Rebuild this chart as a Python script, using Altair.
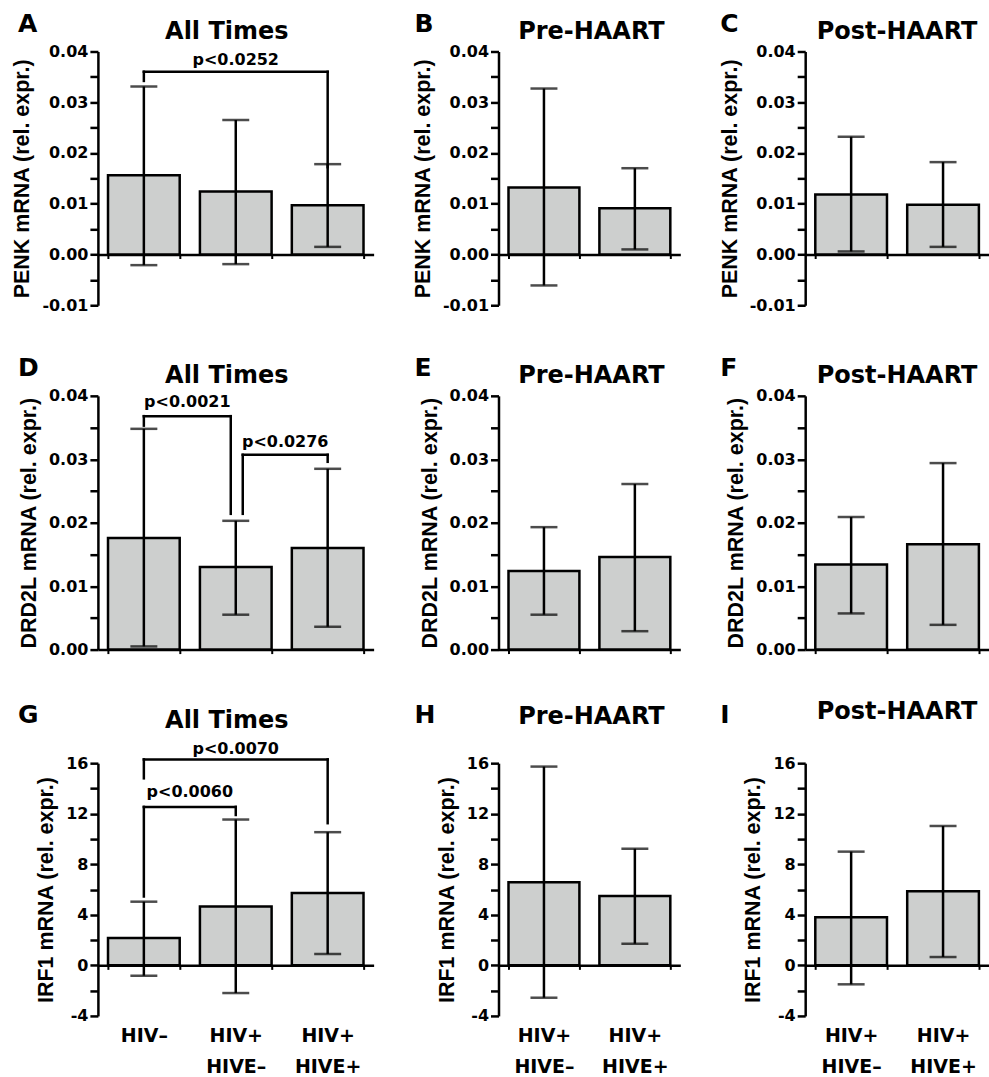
import altair as alt
import pandas as pd

# ---------------- data ----------------
cats3 = ["HIV–", "HIV+\nHIVE–", "HIV+\nHIVE+"]
cats2 = ["HIV+\nHIVE–", "HIV+\nHIVE+"]

# PENK
penk_all_mean = [0.0156, 0.0124, 0.0097]
penk_all_hi = [0.0331, 0.0265, 0.0178]
penk_all_lo = [-0.0021, -0.0019, 0.0015]
penk_pre_mean = [0.0132, 0.0091]
penk_pre_hi = [0.0327, 0.0170]
penk_pre_lo = [-0.0061, 0.0010]
penk_post_mean = [0.0118, 0.0098]
penk_post_hi = [0.0232, 0.0182]
penk_post_lo = [0.0006, 0.0015]

# DRD2L
drd_all_mean = [0.0176, 0.0130, 0.0160]
drd_all_hi = [0.0348, 0.0203, 0.0285]
drd_all_lo = [0.0005, 0.0055, 0.0036]
drd_pre_mean = [0.0124, 0.0146]
drd_pre_hi = [0.0193, 0.0261]
drd_pre_lo = [0.0055, 0.0029]
drd_post_mean = [0.0134, 0.0166]
drd_post_hi = [0.0209, 0.0294]
drd_post_lo = [0.0057, 0.0039]

# IRF1
irf_all_mean = [2.16, 4.66, 5.72]
irf_all_hi = [5.04, 11.54, 10.54]
irf_all_lo = [-0.82, -2.19, 0.90]
irf_pre_mean = [6.58, 5.48]
irf_pre_hi = [15.73, 9.23]
irf_pre_lo = [-2.56, 1.71]
irf_post_mean = [3.81, 5.87]
irf_post_hi = [9.00, 11.03]
irf_post_lo = [-1.50, 0.66]

# significance brackets
sigA_label = ["p<0.0252"]
sigA_from = [cats3[0]]
sigA_to = [cats3[2]]
sigA_top = [0.0360]
sigA_left = [0.0342]
sigA_right = [0.0172]
sigA_text = [0.0384]

sigD_label = ["p<0.0021", "p<0.0276"]
sigD_from = [cats3[0], cats3[1]]
sigD_to = [cats3[1], cats3[2]]
sigD_top = [0.0368, 0.0307]
sigD_left = [0.0353, 0.0214]
sigD_right = [0.0214, 0.0296]
sigD_text = [0.0391, 0.0327]

sigG_label = ["p<0.0070", "p<0.0060"]
sigG_from = [cats3[0], cats3[0]]
sigG_to = [cats3[2], cats3[1]]
sigG_top = [16.30, 12.54]
sigG_left = [14.80, 5.45]
sigG_right = [11.25, 11.90]
sigG_text = [17.10, 13.75]

# axis ticks
penk_ticks = [-0.01, -0.005, 0.0, 0.005, 0.01, 0.015, 0.02, 0.025, 0.03, 0.035, 0.04]
drd_ticks = [0.0, 0.005, 0.01, 0.015, 0.02, 0.025, 0.03, 0.035, 0.04]
irf_ticks = [-4, -2, 0, 2, 4, 6, 8, 10, 12, 14, 16]

# ---------------- style ----------------
FONT = "DejaVu Sans"
TFONT = "Liberation Sans"
BARFILL = "#cdcfce"
LW = 2.5
PI, PO = 0.22, 0.11

DEC_EXPR = ("round(datum.value*1000) % 10 == 0 ? "
            "(datum.value < 0 ? '-' : '') + format(abs(datum.value), '.2f') : ''")
INT_EXPR = ("datum.value % 4 == 0 ? "
            "(datum.value < 0 ? '-' : '') + format(abs(datum.value), 'd') : ''")


def panel(letter, title, cats, mean, lo, hi, ydom, yticks, yexpr, ytitle,
          width, height, show_labels, letter_x, letter_y, title_y, title_dx,
          sig=None, dx=None):
    n = len(cats)
    step = width / (n - PI + 2 * PO)
    zero_off = -height * (0 - ydom[0]) / (ydom[1] - ydom[0])
    xscale = alt.Scale(domain=cats, paddingInner=PI, paddingOuter=PO)
    xaxis = alt.Axis(
        title=None, labels=show_labels, labelExpr="split(datum.label, '\\n')",
        labelFont=FONT, labelFontSize=19, labelFontWeight="bold", labelColor="black",
        labelLineHeight=31, labelPadding=57, labelAngle=0,
        domainColor="black", domainWidth=LW, tickColor="black", tickWidth=2,
        tickSize=4, tickBand="extent", offset=zero_off, grid=False,
    )
    yscale = alt.Scale(domain=ydom, nice=False, zero=False)
    yaxis = alt.Axis(
        title=ytitle, values=yticks, labelExpr=yexpr, grid=False,
        domainColor="black", domainWidth=LW, tickColor="black", tickWidth=LW,
        tickSize=8, labelFont=FONT, labelFontSize=16, labelFontWeight="bold",
        labelColor="black", labelPadding=2, labelOverlap=False,
        titleFont=TFONT, titleFontSize=21.5, titleFontWeight="bold",
        titleColor="black", titlePadding=8,
    )

    def X(f):
        return alt.X(f + ":N", scale=xscale, axis=xaxis, sort=cats)

    def Y(f):
        return alt.Y(f + ":Q", scale=yscale, axis=yaxis)

    df = pd.DataFrame({"cat": cats, "mean": mean, "lo": lo, "hi": hi})
    base = alt.Chart(df)
    bars = base.mark_bar(fill=BARFILL, stroke="black", strokeWidth=LW).encode(
        x=X("cat"), y=Y("mean"), y2=alt.datum(0)
    )
    err = base.mark_rule(color="black", strokeWidth=LW).encode(
        x=X("cat"), y=Y("lo"), y2="hi:Q"
    )
    caps = base.transform_fold(["lo", "hi"], as_=["k", "v"]).mark_tick(
        color="black", size=27, thickness=LW
    ).encode(x=X("cat"), y=Y("v"))
    layers = [bars, err, caps]

    if sig is not None:
        labels, frm, to, top, yl, yr, ty = sig
        for i in range(len(labels)):
            dl, dr = dx[i] if dx else (0, 0)
            bdf = pd.DataFrame({"a": [frm[i]], "b": [to[i]], "top": [top[i]],
                                "yl": [yl[i]], "yr": [yr[i]], "ty": [ty[i]],
                                "lab": [labels[i]]})
            bc = alt.Chart(bdf)
            layers.append(bc.mark_rule(color="black", strokeWidth=LW, strokeCap="square",
                                       xOffset=dl, x2Offset=dr).encode(
                x=X("a"), x2="b:N", y=Y("top")))
            layers.append(bc.mark_rule(color="black", strokeWidth=LW, strokeCap="square",
                                       xOffset=dl).encode(
                x=X("a"), y=Y("top"), y2="yl:Q"))
            layers.append(bc.mark_rule(color="black", strokeWidth=LW, strokeCap="square",
                                       xOffset=dr).encode(
                x=X("b"), y=Y("top"), y2="yr:Q"))
            mid = (cats.index(to[i]) - cats.index(frm[i])) * step / 2 + (dl + dr) / 2
            layers.append(bc.mark_text(font=FONT, fontSize=16, fontWeight="bold",
                                       color="black", baseline="middle", align="center",
                                       xOffset=mid).encode(
                x=X("a"), y=Y("ty"), text="lab:N"))

    tdf = pd.DataFrame({"letter": [letter], "title": [title]})
    lt = alt.Chart(tdf).mark_text(font=FONT, fontSize=25, fontWeight="bold", color="black",
                                  align="left", baseline="alphabetic").encode(
        text="letter:N", x=alt.value(letter_x), y=alt.value(letter_y))
    tt = alt.Chart(tdf).mark_text(font=FONT, fontSize=24, fontWeight="bold", color="black",
                                  align="center", baseline="alphabetic").encode(
        text="title:N", x=alt.value(width / 2 + title_dx), y=alt.value(title_y))
    layers += [lt, tt]
    return alt.layer(*layers).properties(width=width, height=height)


W1, W2, W3 = 276, 182, 184
H12, H3 = 254, 253

A = panel("A", "All Times", cats3, penk_all_mean, penk_all_lo, penk_all_hi, [-0.01, 0.04],
          penk_ticks, DEC_EXPR, "PENK mRNA (rel. expr.)", W1, H12, False, -80, -20, -13, -9,
          sig=(sigA_label, sigA_from, sigA_to, sigA_top, sigA_left, sigA_right, sigA_text))
B = panel("B", "Pre-HAART", cats2, penk_pre_mean, penk_pre_lo, penk_pre_hi, [-0.01, 0.04],
          penk_ticks, DEC_EXPR, "PENK mRNA (rel. expr.)", W2, H12, False, -84, -20, -13, 2)
C = panel("C", "Post-HAART", cats2, penk_post_mean, penk_post_lo, penk_post_hi, [-0.01, 0.04],
          penk_ticks, DEC_EXPR, "PENK mRNA (rel. expr.)", W3, H12, False, -85, -20, -13, 0)

D = panel("D", "All Times", cats3, drd_all_mean, drd_all_lo, drd_all_hi, [0.0, 0.04],
          drd_ticks, DEC_EXPR, "DRD2L mRNA (rel. expr.)", W1, H12, False, -80, -20, -13, -9,
          sig=(sigD_label, sigD_from, sigD_to, sigD_top, sigD_left, sigD_right, sigD_text),
          dx=[(0, -5), (7, 0)])
E = panel("E", "Pre-HAART", cats2, drd_pre_mean, drd_pre_lo, drd_pre_hi, [0.0, 0.04],
          drd_ticks, DEC_EXPR, "DRD2L mRNA (rel. expr.)", W2, H12, False, -84, -20, -13, 2)
F = panel("F", "Post-HAART", cats2, drd_post_mean, drd_post_lo, drd_post_hi, [0.0, 0.04],
          drd_ticks, DEC_EXPR, "DRD2L mRNA (rel. expr.)", W3, H12, False, -85, -20, -13, 0)

G = panel("G", "All Times", cats3, irf_all_mean, irf_all_lo, irf_all_hi, [-4, 16],
          irf_ticks, INT_EXPR, "IRF1 mRNA (rel. expr.)", W1, H3, True, -80, -40, -35, -9,
          sig=(sigG_label, sigG_from, sigG_to, sigG_top, sigG_left, sigG_right, sigG_text))
Hp = panel("H", "Pre-HAART", cats2, irf_pre_mean, irf_pre_lo, irf_pre_hi, [-4, 16],
           irf_ticks, INT_EXPR, "IRF1 mRNA (rel. expr.)", W2, H3, True, -84, -40, -39, 2)
I = panel("I", "Post-HAART", cats2, irf_post_mean, irf_post_lo, irf_post_hi, [-4, 16],
          irf_ticks, INT_EXPR, "IRF1 mRNA (rel. expr.)", W3, H3, True, -85, -40, -44, 0)

chart = alt.concat(A, B, C, D, E, F, G, Hp, I, columns=3,
                   spacing={"row": 42.7, "column": 38}).properties(
    padding={"left": 11, "top": 11, "right": 0, "bottom": 0},
    background="white",
).configure_view(stroke=None)

chart.save("out.html", embed_options={"renderer": "svg", "actions": False})
